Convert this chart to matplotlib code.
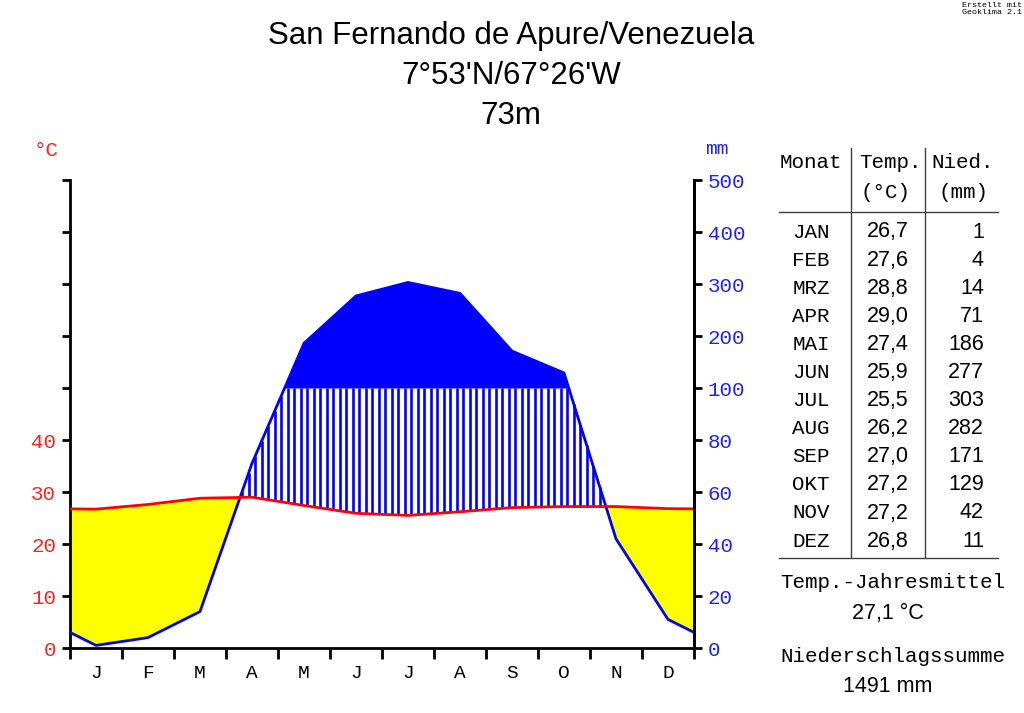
import numpy as np
import matplotlib.pyplot as plt
from matplotlib.lines import Line2D

# climate data San Fernando de Apure
months = ['JAN', 'FEB', 'MRZ', 'APR', 'MAI', 'JUN', 'JUL', 'AUG', 'SEP', 'OKT', 'NOV', 'DEZ']
month_letters = ['J', 'F', 'M', 'A', 'M', 'J', 'J', 'A', 'S', 'O', 'N', 'D']
temp = [26.7, 27.6, 28.8, 29.0, 27.4, 25.9, 25.5, 26.2, 27.0, 27.2, 27.2, 26.8]
prec = [1, 4, 14, 71, 186, 277, 303, 282, 171, 129, 42, 11]
temp_ticks = [0, 10, 20, 30, 40]
prec_ticks = [0, 20, 40, 60, 80, 100, 200, 300, 400, 500]
title = 'San Fernando de Apure/Venezuela\n7°53\'N/67°26\'W\n73m'
mean_temp = '27,1 °C'
sum_prec = '1491 mm'

RED = '#ff2020'
BLUE = '#2020ff'
MONO = 'Liberation Mono'
SANS = 'Liberation Sans'


def scale_prec(p):
    # Walter-Lieth: 20 mm = 10 °C up to 100 mm, above that 100 mm = 10 °C
    p = np.asarray(p, dtype=float)
    return np.where(p <= 100, p / 2.0, 50 + (p - 100) / 10.0)


# curves at month centres, extended to the edges with the Dec/Jan mean
x = np.concatenate([[0], np.arange(12) + 0.5, [12]])
t_edge = (temp[0] + temp[-1]) / 2
p_edge = (prec[0] + prec[-1]) / 2
t = np.concatenate([[t_edge], temp, [t_edge]])
p = scale_prec(np.concatenate([[p_edge], prec, [p_edge]]))

xd = np.linspace(0, 12, 2401)
td = np.interp(xd, x, t)
pd_ = np.interp(xd, x, p)

fig = plt.figure(figsize=(10.24, 7.13), dpi=100)
W, H = 1024, 713


def px(xp, yp):
    return xp / W, 1 - yp / H


ax = fig.add_axes([70 / W, 65 / H, 624 / W, 468 / H])
ax.set_xlim(0, 12)
ax.set_ylim(0, 90)

# arid period
ax.fill_between(xd, td, pd_, where=td >= pd_, interpolate=True, color='yellow', lw=0)
# humid period: vertical hatching up to 100 mm
xh = np.arange(0.0625, 12, 0.125)
th = np.interp(xh, x, t)
ph = np.interp(xh, x, p)
m = ph > th
ax.vlines(xh[m], th[m], np.minimum(ph[m], 50), color='blue', lw=1.9)
# perhumid above 100 mm
ax.fill_between(xd, 50, pd_, where=pd_ > 50, interpolate=True, color='blue', lw=0)

ax.plot(x, p, color='blue', lw=2, zorder=4)
ax.plot(x, t, color='red', lw=2, zorder=5)

ax.spines['top'].set_visible(False)
for s in ['left', 'right', 'bottom']:
    ax.spines[s].set_linewidth(2)

ax.set_yticks(np.arange(0, 91, 10))
ax.set_yticklabels([str(v) for v in temp_ticks] + [''] * 5, fontfamily=MONO,
                   fontsize=15, color=RED)
ax.tick_params(axis='y', length=6, width=2, pad=4)

ax2 = ax.twinx()
ax2.set_ylim(0, 90)
ax2.set_yticks(scale_prec(prec_ticks))
ax2.set_yticklabels([str(v) for v in prec_ticks], fontfamily=MONO, fontsize=15, color=BLUE)
ax2.tick_params(axis='y', length=6, width=2, pad=4)
for s in ['top', 'left', 'bottom']:
    ax2.spines[s].set_visible(False)
ax2.spines['right'].set_linewidth(2)

ax.set_xticks(np.arange(13))
ax.set_xticklabels([])
ax.set_xticks(np.arange(12) + 0.5, minor=True)
ax.set_xticklabels(month_letters, minor=True, fontfamily=MONO, fontsize=14)
ax.tick_params(axis='x', which='major', length=8, width=2)
ax.tick_params(axis='x', which='minor', length=0, pad=12)

# titles and axis units
fig.text(*px(511, 76), title, ha='center', va='center', fontfamily=SANS,
         fontsize=22.5, linespacing=1.42)
fig.text(*px(46, 150), '°C', ha='center', va='center', fontfamily=MONO, fontsize=15, color=RED)
fig.text(*px(717, 150), 'mm', ha='center', va='center', fontfamily=MONO, fontsize=14, color=BLUE)
fig.text(*px(1022, 2), 'Erstellt mit\nGeoklima 2.1', ha='right', va='top', fontfamily=MONO,
         fontsize=6, linespacing=0.9)

# table
fig.text(*px(811, 162), 'Monat', ha='center', va='center', fontfamily=MONO, fontsize=15)
fig.text(*px(890, 162), 'Temp.', ha='center', va='center', fontfamily=MONO, fontsize=15)
fig.text(*px(886, 192), '(°C)', ha='center', va='center', fontfamily=MONO, fontsize=15)
fig.text(*px(963, 162), 'Nied.', ha='center', va='center', fontfamily=MONO, fontsize=15)
fig.text(*px(963, 192), '(mm)', ha='center', va='center', fontfamily=MONO, fontsize=15)

for i in range(12):
    yy = 232 + i * 28.1
    fig.text(*px(811, yy), months[i], ha='center', va='center', fontfamily=MONO, fontsize=15)
    fig.text(*px(888, yy), f'{temp[i]:.1f}'.replace('.', ','), ha='center', va='center',
             fontfamily=SANS, fontsize=15.5)
    fig.text(*px(984, yy), str(prec[i]), ha='right', va='center', fontfamily=SANS, fontsize=15.5)

line_kw = dict(color='#404040', lw=1, transform=fig.transFigure)
for (x0, y0), (x1, y1) in [((851, 148), (851, 557)), ((925, 148), (925, 557)),
                           ((779, 212), (998, 212)), ((779, 558), (998, 558))]:
    a = px(x0, y0)
    b = px(x1, y1)
    fig.add_artist(Line2D([a[0], b[0]], [a[1], b[1]], **line_kw))

fig.text(*px(893, 583), 'Temp.-Jahresmittel', ha='center', va='center', fontfamily=MONO, fontsize=15)
fig.text(*px(888, 613), mean_temp, ha='center', va='center', fontfamily=SANS, fontsize=15.5)
fig.text(*px(893, 656), 'Niederschlagssumme', ha='center', va='center', fontfamily=MONO, fontsize=15)
fig.text(*px(888, 686), sum_prec, ha='center', va='center', fontfamily=SANS, fontsize=15.5)

fig.savefig('out.png', dpi=100)
